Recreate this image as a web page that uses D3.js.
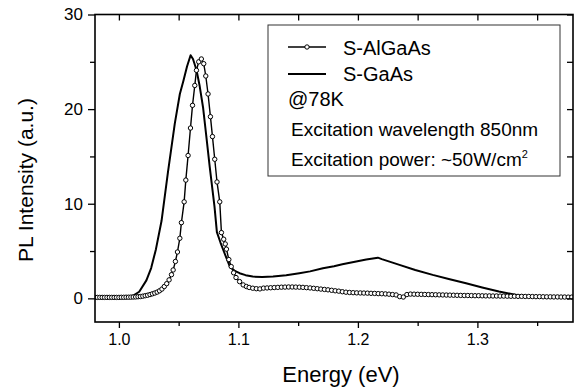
<!DOCTYPE html>
<html>
<head>
<meta charset="utf-8">
<script src="https://cdn.jsdelivr.net/npm/d3@7/dist/d3.min.js"></script>
<style>
html,body{margin:0;padding:0;background:#fff;}
svg{display:block;font-family:"Liberation Sans",Arial,sans-serif;}
</style>
</head>
<body>
<svg id="chart" width="577" height="388"></svg>
<script>
// ---- data ----
const xTicksMajor = [1.0, 1.1, 1.2, 1.3];
const xTicksMinor = [1.05, 1.15, 1.25, 1.35];
const yTicksMajor = [0, 10, 20, 30];
const yTicksMinor = [5, 15, 25];

const seriesNames = ["S-AlGaAs", "S-GaAs"];
const legendNotes = ["@78K", "Excitation wavelength 850nm", "Excitation power: ~50W/cm"];

// S-GaAs (solid line)
const gaasE = [0.980,1.000,1.006,1.012,1.017,1.023,1.027,1.031,1.0357,1.041,1.0468,1.051,1.054,1.057,1.060,1.062,1.065,1.0675,1.0704,1.073,1.076,1.080,1.082,1.085,1.088,1.0927,1.097,1.101,1.106,1.112,1.120,1.129,1.140,1.151,1.160,1.1707,1.180,1.187,1.1986,1.207,1.2167,1.220,1.2348,1.248,1.2626,1.276,1.2905,1.304,1.318,1.335,1.346,1.360,1.380];
const gaasI = [0.05,0.05,0.1,0.3,0.7,1.9,3.2,5.2,8.2,13.3,18.5,21.6,23.0,24.5,25.7,25.3,24.1,22.5,20.2,17.3,13.9,9.7,7.0,5.9,4.9,3.4,2.9,2.66,2.45,2.3,2.25,2.3,2.45,2.66,2.85,3.19,3.4,3.6,3.9,4.1,4.3,4.15,3.54,3.0,2.48,2.05,1.6,1.15,0.72,0.3,0.19,0.12,0.08];

// S-AlGaAs (line + open circles)
const algaasE = [0.980,0.982,0.984,0.986,0.988,0.990,0.992,0.994,0.996,0.998,1.000,1.002,1.004,1.006,1.008,1.010,1.012,1.014,1.016,1.018,1.020,1.022,1.024,1.026,1.028,1.030,1.032,1.034,1.036,1.038,1.040,1.042,1.044,1.0454,1.0473,1.049,1.051,1.0523,1.0546,1.056,1.0579,1.0599,1.0616,1.0635,1.0649,1.0668,1.069,1.071,1.0727,1.0746,1.0766,1.0783,1.0802,1.0821,1.0844,1.0858,1.0877,1.089,1.090,1.092,1.094,1.096,1.098,1.101,1.104,1.1067,1.109,1.112,1.115,1.118,
1.121,1.124,1.127,1.130,1.133,1.136,1.139,1.142,1.145,1.148,1.151,1.154,1.157,1.160,1.163,1.166,1.169,1.172,1.175,1.178,1.181,1.184,1.187,1.190,1.193,1.196,1.199,1.202,1.205,1.208,1.211,1.214,1.217,1.220,1.223,1.226,1.229,1.232,1.235,1.238,1.241,1.244,1.247,1.250,1.253,1.256,1.259,1.262,1.265,1.268,1.271,1.274,1.277,1.280,1.283,1.286,1.289,1.292,1.295,1.298,1.301,1.304,1.307,1.310,1.313,1.316,1.319,1.322,1.325,1.328,1.331,1.334,1.337,1.340,1.343,1.346,1.349,1.352,1.355,1.358,1.361,1.364,1.367,1.370,1.373,1.376,1.379];
const algaasI = [0.10,0.10,0.10,0.10,0.10,0.10,0.10,0.10,0.10,0.10,0.10,0.11,0.11,0.12,0.12,0.13,0.14,0.15,0.17,0.19,0.23,0.28,0.33,0.40,0.48,0.56,0.66,0.80,0.98,1.25,1.55,1.95,2.5,3.0,3.9,4.9,6.35,8.0,10.2,12.5,15.1,18.0,20.4,22.5,24.1,25.0,25.3,24.8,23.5,21.6,19.2,17.1,14.7,12.3,10.2,6.95,6.25,5.75,5.2,4.1,3.36,2.7,2.2,1.77,1.42,1.25,1.15,1.07,1.02,1.0,
1.08,1.10,1.12,1.14,1.16,1.18,1.19,1.20,1.20,1.19,1.18,1.16,1.13,1.10,1.06,1.02,0.98,0.94,0.90,0.85,0.80,0.76,0.70,0.65,0.62,0.60,0.58,0.57,0.56,0.55,0.53,0.52,0.50,0.49,0.47,0.44,0.40,0.36,0.18,0.14,0.40,0.45,0.44,0.43,0.42,0.41,0.40,0.39,0.38,0.37,0.36,0.35,0.34,0.33,0.32,0.31,0.30,0.30,0.29,0.28,0.28,0.27,0.26,0.26,0.25,0.25,0.24,0.24,0.23,0.22,0.22,0.21,0.21,0.20,0.20,0.19,0.18,0.18,0.17,0.16,0.16,0.15,0.15,0.14,0.14,0.13,0.13];

// ---- layout ----
const svg = d3.select("#chart");
const L = 95, R = 573, T = 14.5, B = 322;
const x = d3.scaleLinear().domain([0.98, 1.38]).range([L, R]);
const y = d3.scaleLinear().domain([-2.5, 30]).range([B, T]);

const gaas = gaasE.map((e,i)=>[e,gaasI[i]]);
const algaas = algaasE.map((e,i)=>[e,algaasI[i]]);

const clip = svg.append("clipPath").attr("id","clip").append("rect")
  .attr("x",L).attr("y",T).attr("width",R-L).attr("height",B-T);

const line = d3.line().x(d=>x(d[0])).y(d=>y(d[1]));
const plot = svg.append("g").attr("clip-path","url(#clip)");

plot.append("path").datum(gaas).attr("d",line)
  .attr("fill","none").attr("stroke","#000").attr("stroke-width",2).attr("stroke-linejoin","round");
plot.append("path").datum(algaas).attr("d",line)
  .attr("fill","none").attr("stroke","#000").attr("stroke-width",1.4);
plot.selectAll("circle.al").data(algaas).enter().append("circle")
  .attr("class","al").attr("cx",d=>x(d[0])).attr("cy",d=>y(d[1])).attr("r",2.2)
  .attr("fill","#fff").attr("stroke","#000").attr("stroke-width",1);

// ---- axes ----
function style(g){
  g.select(".domain").remove();
  g.selectAll("line").attr("stroke","#000").attr("stroke-width",1.3);
  g.selectAll("text").attr("fill","#000").attr("font-family","Liberation Sans, Arial, sans-serif");
}
svg.append("g").attr("transform",`translate(0,${B})`)
  .call(d3.axisBottom(x).tickValues(xTicksMajor).tickSize(6).tickPadding(6).tickFormat(d3.format(".1f")))
  .call(style).selectAll("text").attr("font-size",16);
svg.append("g").attr("transform",`translate(0,${B})`)
  .call(d3.axisBottom(x).tickValues(xTicksMinor).tickSize(4).tickFormat(""))
  .call(style);
svg.append("g").attr("transform",`translate(0,${T})`)
  .call(d3.axisTop(x).tickValues(xTicksMajor.concat(xTicksMinor)).tickSize(-6).tickFormat(""))
  .call(style);

svg.append("g").attr("transform",`translate(${L},0)`)
  .call(d3.axisLeft(y).tickValues(yTicksMajor).tickSize(7).tickPadding(5).tickFormat(d3.format("d")))
  .call(style).selectAll("text").attr("font-size",17);
svg.append("g").attr("transform",`translate(${L},0)`)
  .call(d3.axisLeft(y).tickValues(yTicksMinor).tickSize(5).tickFormat(""))
  .call(style);
svg.append("g").attr("transform",`translate(${R},0)`)
  .call(d3.axisRight(y).tickValues(yTicksMajor.concat(yTicksMinor)).tickSize(-6).tickFormat(""))
  .call(style);

svg.append("rect").attr("x",L).attr("y",T).attr("width",R-L).attr("height",B-T)
  .attr("fill","none").attr("stroke","#000").attr("stroke-width",1.6);

// axis titles
svg.append("text").attr("x",341).attr("y",382).attr("text-anchor","middle")
  .attr("font-size",22).text("Energy (eV)");
svg.append("text").attr("transform","translate(33,180) rotate(-90)").attr("text-anchor","middle")
  .attr("font-size",21).text("PL Intensity (a.u.)");

// ---- legend ----
const lg = svg.append("g");
lg.append("rect").attr("x",268).attr("y",25).attr("width",292).attr("height",151)
  .attr("fill","#fff").attr("stroke","#333").attr("stroke-width",1);
lg.append("line").attr("x1",288).attr("x2",326).attr("y1",47).attr("y2",47).attr("stroke","#000").attr("stroke-width",1.4);
lg.append("circle").attr("cx",307).attr("cy",47).attr("r",2.2).attr("fill","#fff").attr("stroke","#000");
lg.append("line").attr("x1",288).attr("x2",326).attr("y1",74).attr("y2",74).attr("stroke","#000").attr("stroke-width",2);
lg.append("text").attr("x",343).attr("y",55).attr("font-size",20).text(seriesNames[0]);
lg.append("text").attr("x",343).attr("y",81).attr("font-size",20).text(seriesNames[1]);
lg.append("text").attr("x",288).attr("y",106).attr("font-size",20).text(legendNotes[0]);
lg.append("text").attr("x",291).attr("y",136).attr("font-size",19).text(legendNotes[1]);
const t5 = lg.append("text").attr("x",291).attr("y",166).attr("font-size",19).text(legendNotes[2]);
t5.append("tspan").attr("font-size",11).attr("dy",-8).text("2");
</script>
</body>
</html>
